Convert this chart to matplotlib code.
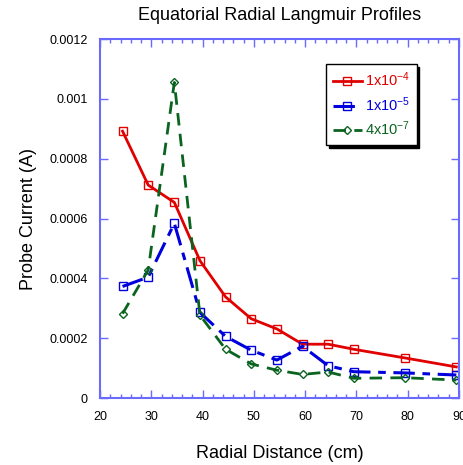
import matplotlib
matplotlib.use("Agg")
import matplotlib.pyplot as plt
from matplotlib.ticker import MultipleLocator

plt.rcParams['font.family'] = ['Liberation Sans', 'DejaVu Sans']
plt.rcParams['mathtext.default'] = 'regular'

x = [24.4, 29.4, 34.5, 39.5, 44.5, 49.5, 54.5, 59.5, 64.5, 69.5, 79.5, 89.5]
red = [0.000892, 0.000712, 0.000654, 0.000459, 0.000338, 0.000265, 0.000231,
       0.000180, 0.000180, 0.000163, 0.000134, 0.000104]
blue = [0.000373, 0.000404, 0.000584, 0.000286, 0.000206, 0.000160, 0.000127,
        0.000173, 0.000108, 0.000088, 0.000084, 0.000077]
green = [0.000282, 0.000428, 0.001055, 0.000277, 0.000163, 0.000114, 0.000093,
         0.000079, 0.000087, 0.000066, 0.000068, 0.000060]
labels = ['1x10$^{-4}$', '1x10$^{-5}$', '4x10$^{-7}$']
yticks = [0, 0.0002, 0.0004, 0.0006, 0.0008, 0.001, 0.0012]
ytick_labels = ['0', '0.0002', '0.0004', '0.0006', '0.0008', '0.001', '0.0012']

c_red = '#e00000'
c_blue = '#0000dd'
c_green = '#0a6420'

fig = plt.figure(figsize=(4.64, 4.65), dpi=100)
ax = fig.add_axes([0.2155, 0.144, 0.7735, 0.772])

l1, = ax.plot(x, red, color=c_red, lw=2, marker='s', ms=5.5, mfc='none', mec=c_red, mew=1)
l2, = ax.plot(x, blue, color=c_blue, lw=2.2, marker='s', ms=5.5, mfc='none', mec=c_blue, mew=1,
              dashes=[7, 2.5, 2.5, 2.5])
l3, = ax.plot(x, green, color=c_green, lw=2, marker='D', ms=4, mfc='none', mec=c_green, mew=1,
              dashes=[4.5, 3])

ax.set_xlim(20, 90)
ax.set_ylim(0, 0.0012)
ax.xaxis.set_major_locator(MultipleLocator(10))
ax.xaxis.set_minor_locator(MultipleLocator(2))
ax.set_yticks(yticks)
ax.set_yticklabels(ytick_labels)

spine_c = '#6a6aff'
for s in ax.spines.values():
    s.set_color(spine_c)
    s.set_linewidth(1.5)
ax.tick_params(which='both', direction='in', top=True, right=True, color=spine_c,
               labelsize=9, labelcolor='black')
ax.tick_params(which='major', length=6, width=1)
ax.tick_params(which='minor', length=3, width=1)
ax.tick_params(axis='x', pad=9)
ax.tick_params(axis='y', pad=9)

ax.set_title('Equatorial Radial Langmuir Profiles', fontsize=13, pad=14)
ax.set_xlabel('Radial Distance (cm)', fontsize=13, labelpad=16)
ax.set_ylabel('Probe Current (A)', fontsize=13, labelpad=9)

leg = ax.legend([l1, l2, l3], labels, loc='upper left', bbox_to_anchor=(0.63, 0.93),
                frameon=True, fancybox=False, shadow={'color': 'black', 'alpha': 1},
                fontsize=10.5, handlelength=2.0, borderpad=0.45, labelspacing=0.4,
                handletextpad=0.2, borderaxespad=0)
leg.get_frame().set_edgecolor('black')
leg.get_frame().set_linewidth(1)
for t, c in zip(leg.get_texts(), [c_red, c_blue, c_green]):
    t.set_color(c)

fig.savefig('out.png', dpi=100)
